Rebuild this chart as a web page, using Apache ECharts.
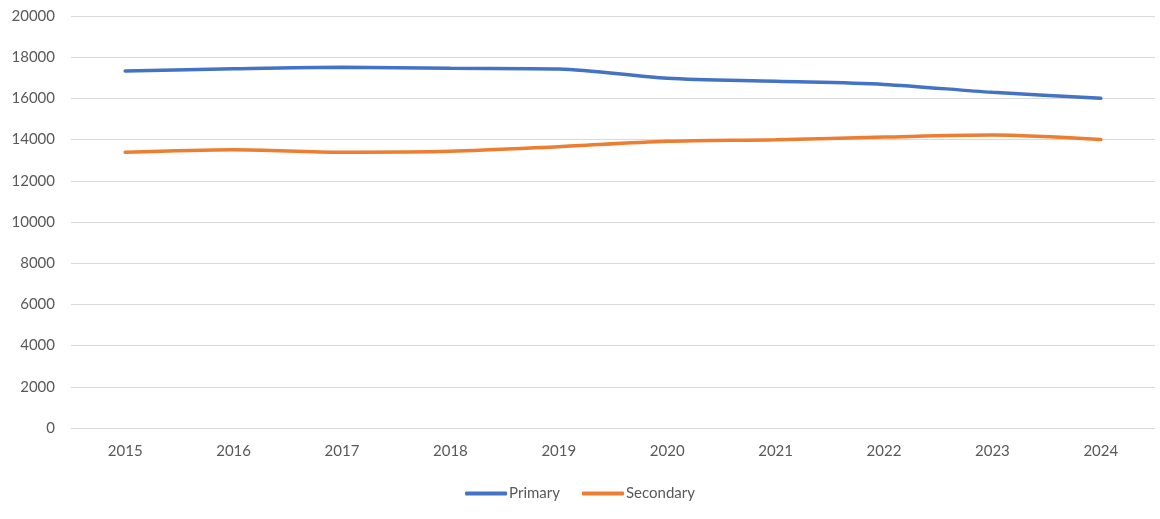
<!DOCTYPE html>
<html>
<head>
<meta charset="utf-8">
<script src="https://cdn.jsdelivr.net/npm/echarts@6/dist/echarts.min.js"></script>
<style>
  html, body { margin: 0; padding: 0; background: #fff; }
  #main { width: 1160px; height: 519px; }
</style>
</head>
<body>
<div id="main"></div>
<script>
  // data
  const years = ['2015', '2016', '2017', '2018', '2019', '2020', '2021', '2022', '2023', '2024'];
  const primary = [17330, 17440, 17510, 17460, 17430, 16975, 16830, 16680, 16295, 16005];
  const secondary = [13385, 13510, 13385, 13430, 13655, 13915, 13995, 14125, 14225, 14000];

  const labelColor = '#595959';
  const fontFamily = 'Lato, "Open Sans", sans-serif';

  var chart = echarts.init(document.getElementById('main'));
  chart.setOption({
    animation: false,
    grid: { left: 71, right: 5, top: 16, bottom: 91, containLabel: false },
    legend: {
      bottom: 13,
      left: 'center',
      itemWidth: 42,
      itemHeight: 4,
      itemGap: 22,
      icon: 'roundRect',
      textStyle: { color: labelColor, fontSize: 15, fontFamily: fontFamily, padding: [0, 0, 0, -3] },
      data: ['Primary', 'Secondary']
    },
    xAxis: {
      type: 'category',
      data: years,
      boundaryGap: true,
      axisLine: { show: false },
      axisTick: { show: false },
      axisLabel: { color: labelColor, fontSize: 15, fontFamily: fontFamily, margin: 16 }
    },
    yAxis: {
      type: 'value',
      min: 0,
      max: 20000,
      interval: 2000,
      axisLine: { show: false },
      axisTick: { show: false },
      axisLabel: {
        color: labelColor, fontSize: 15, fontFamily: fontFamily, margin: 16,
        formatter: function (v) { return String(v); }
      },
      splitLine: { lineStyle: { color: '#d9d9d9', width: 1 } }
    },
    series: [
      {
        name: 'Primary',
        type: 'line',
        data: primary,
        smooth: 0.3,
        symbol: 'none',
        lineStyle: { color: '#4472C4', width: 3.5, cap: 'round' },
        itemStyle: { color: '#4472C4' }
      },
      {
        name: 'Secondary',
        type: 'line',
        data: secondary,
        smooth: 0.3,
        symbol: 'none',
        lineStyle: { color: '#ED7D31', width: 3.5, cap: 'round' },
        itemStyle: { color: '#ED7D31' }
      }
    ]
  });
</script>
</body>
</html>
